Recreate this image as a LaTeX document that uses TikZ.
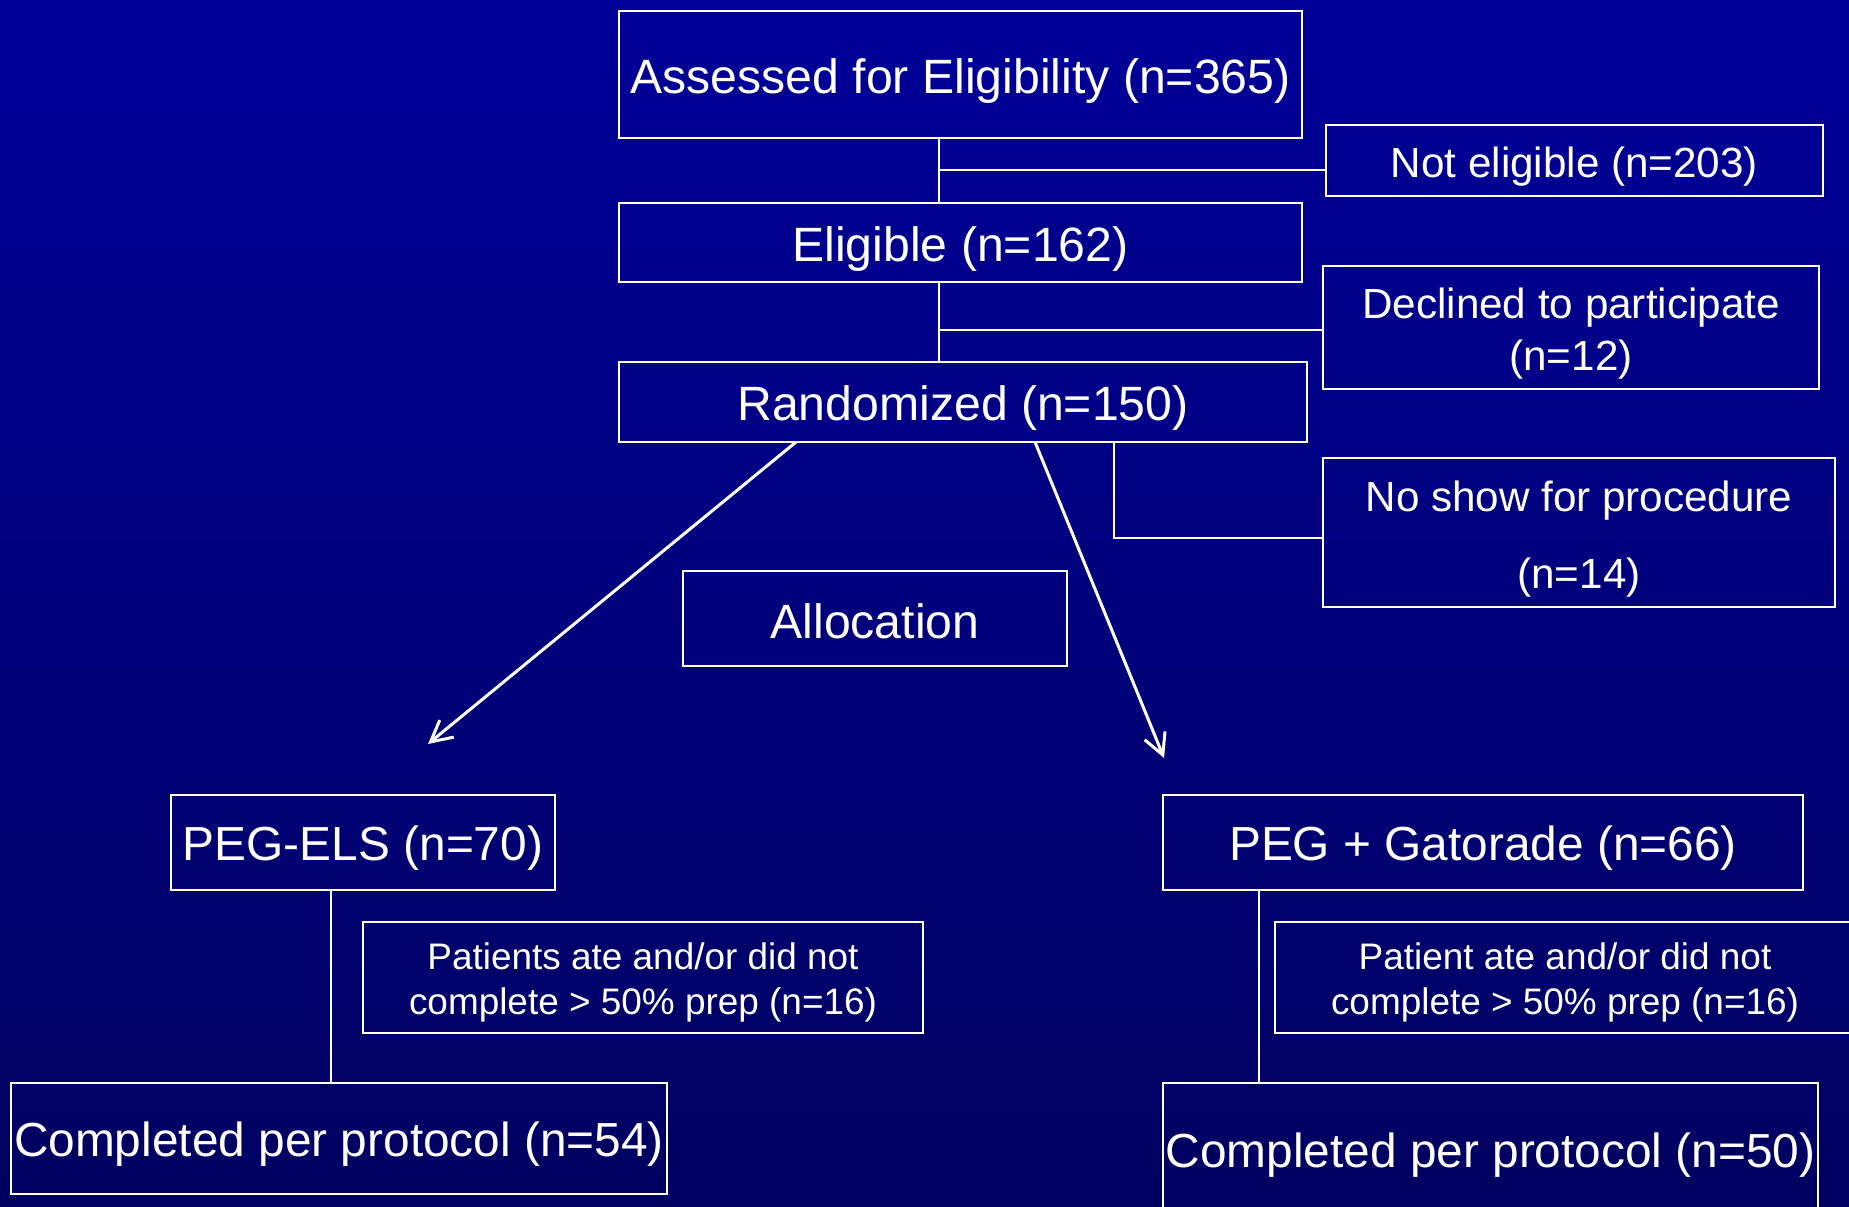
\documentclass[tikz,border=0pt]{standalone}
\usepackage{fontspec}
\setmainfont{Liberation Sans}
\usepackage{xcolor}
\usetikzlibrary{arrows.meta}
\definecolor{slidetop}{RGB}{0,0,153}
\definecolor{slidebot}{RGB}{0,0,96}
\tikzset{
  box/.style={rectangle, draw=white, line width=0.2mm, text=white,
              align=center, inner sep=0pt, outer sep=0pt},
  big/.style={font=\fontsize{13.7}{15}\selectfont, text height=4.7mm},
  side/.style={font=\fontsize{12}{14.8}\selectfont, text height=4.27mm},
  arm/.style={font=\fontsize{13.6}{15}\selectfont, text height=4.67mm},
  note/.style={font=\fontsize{10.5}{12.8}\selectfont, text height=8.25mm},
  link/.style={draw=white, line width=0.18mm},
  arrow/.style={draw=white, line width=0.3mm,
                -{Straight Barb[length=2.1mm, width=2.2mm]}},
}

\begin{document}
\begin{tikzpicture}[x=0.01cm, y=-0.01cm]
  \shade[top color=slidetop, bottom color=slidebot] (0,0) rectangle (1849,1207);
  \useasboundingbox (0,0) rectangle (1849,1207);

  % enrolment
  \node[box, big, minimum width=6.83cm, minimum height=1.27cm] (assess) at (960.5,74.5)
    {Assessed for Eligibility (n=365)};
  \node[box, side, minimum width=4.97cm, minimum height=0.71cm] (notelig) at (1574.5,160.5)
    {Not eligible (n=203)};
  \node[box, big, minimum width=6.83cm, minimum height=0.79cm] (elig) at (960.5,242.5)
    {Eligible (n=162)};
  \node[box, side, text height=9.5mm,
        minimum width=4.96cm, minimum height=1.23cm] (decl) at (1571,327.5)
    {Declined to participate\\(n=12)};
  \node[box, big, minimum width=6.88cm, minimum height=0.80cm] (rand) at (963,402)
    {Randomized (n=150)};
  \node[box, side, font=\fontsize{12}{21.9}\selectfont, text height=12mm,
        minimum width=5.12cm, minimum height=1.49cm] (noshow) at (1579,532.5)
    {No show for procedure\\(n=14)};
  \node[box, big, text height=4.0mm,
        minimum width=3.84cm, minimum height=0.95cm] (alloc) at (875,618.5)
    {Allocation};

  % arms
  \node[box, arm, minimum width=3.84cm, minimum height=0.95cm] (pegels) at (363,842.5)
    {PEG-ELS (n=70)};
  \node[box, arm, minimum width=6.40cm, minimum height=0.95cm] (peggat) at (1483,842.5)
    {PEG + Gatorade (n=66)};
  \node[box, note, minimum width=5.60cm, minimum height=1.11cm] (noteL) at (643,977.5)
    {Patients ate and/or did not\\complete \textgreater{} 50\% prep (n=16)};
  \node[box, note, minimum width=5.80cm, minimum height=1.11cm] (noteR) at (1565,977.5)
    {Patient ate and/or did not\\complete \textgreater{} 50\% prep (n=16)};
  \node[box, arm, minimum width=6.56cm, minimum height=1.11cm] (doneL) at (339,1138.5)
    {Completed per protocol (n=54)};
  \node[box, arm, minimum width=6.55cm, minimum height=1.32cm] (doneR) at (1490.5,1149)
    {Completed per protocol (n=50)};

  % connectors
  \coordinate (sp) at (939,0);
  \coordinate (j1) at (939,170);
  \coordinate (j2) at (939,330);
  \coordinate (j3) at (1114,538);
  \coordinate (armL) at (331,0);
  \coordinate (armR) at (1259,0);

  \draw[link] (assess.south -| sp) -- (elig.north -| sp);
  \draw[link] (j1) -- (j1 -| notelig.west);
  \draw[link] (elig.south -| sp) -- (rand.north -| sp);
  \draw[link] (j2) -- (j2 -| decl.west);
  \draw[link] (rand.south -| j3) -- (j3) -- (j3 -| noshow.west);

  \coordinate (tipL) at (428,744);
  \coordinate (tipR) at (1164,758);
  \draw[arrow] (rand.south -| 796,0) -- (tipL);
  \draw[arrow] (rand.south -| 1035,0) -- (tipR);

  \draw[link] (pegels.south -| armL) -- (doneL.north -| armL);
  \draw[link] (peggat.south -| armR) -- (doneR.north -| armR);
\end{tikzpicture}
\end{document}
